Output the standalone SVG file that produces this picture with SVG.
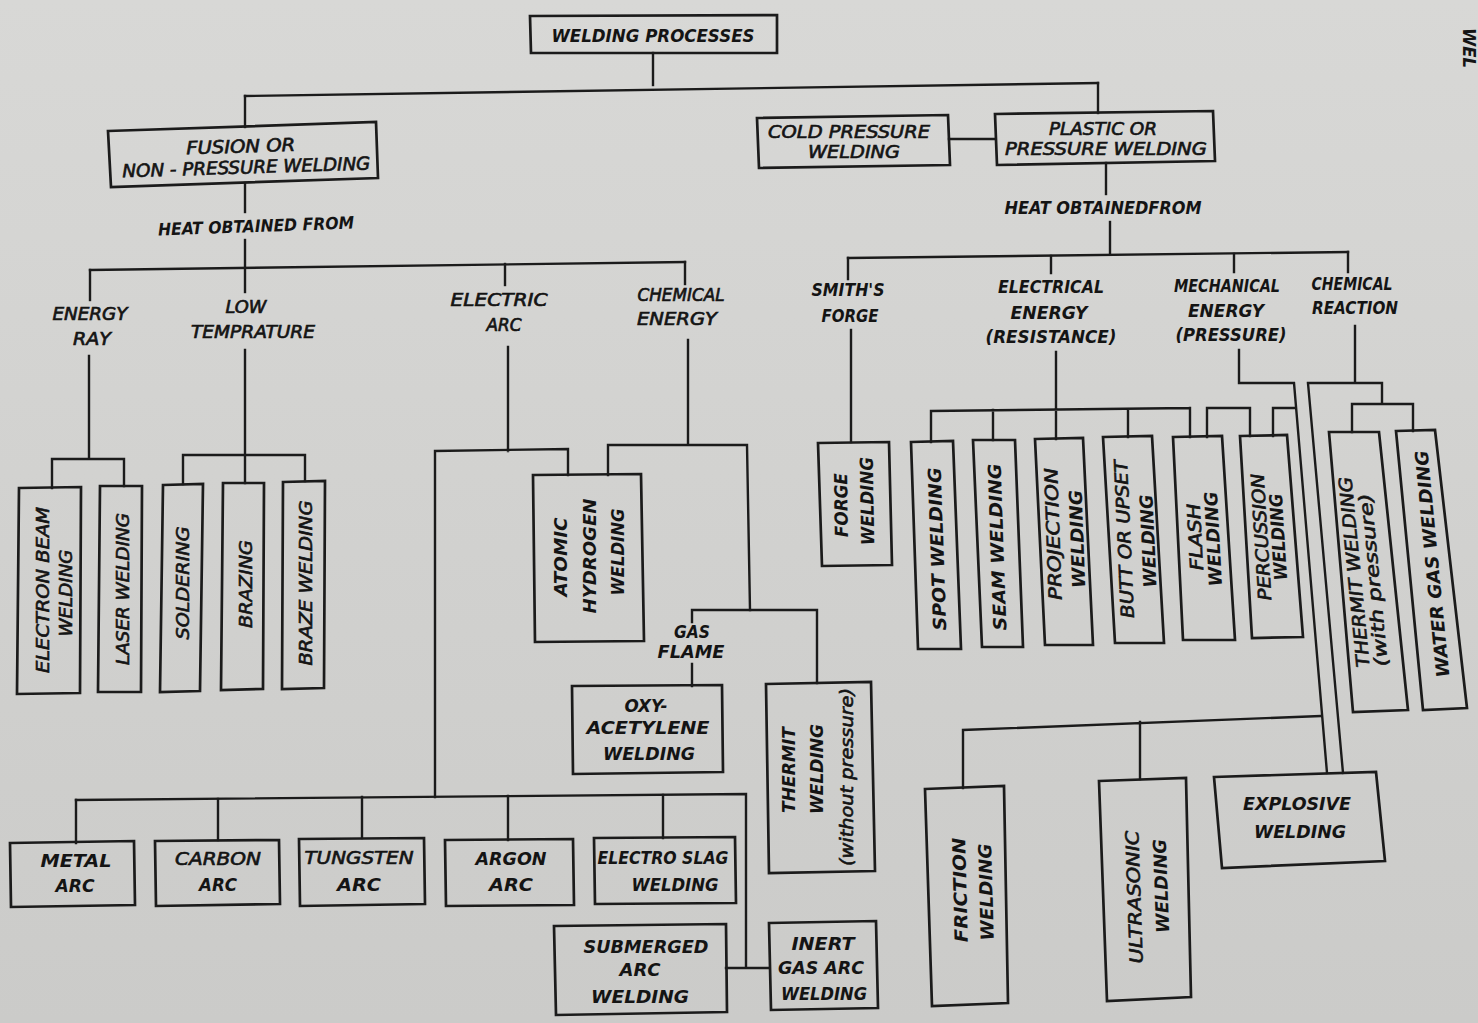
<svg xmlns="http://www.w3.org/2000/svg" width="1478" height="1023" viewBox="0 0 1478 1023">
<defs>
<linearGradient id="bg" x1="0" y1="0" x2="0" y2="1">
<stop offset="0" stop-color="#d8d8d6"/>
<stop offset="1" stop-color="#cbcbc9"/>
</linearGradient>
</defs>
<style>
.box{fill:none;stroke:#1b1b1b;stroke-width:2.7;stroke-linejoin:miter}
.ln{fill:none;stroke:#1b1b1b;stroke-width:2.4;stroke-linecap:square;stroke-linejoin:miter}
text{font-family:"DejaVu Sans Condensed","DejaVu Sans",sans-serif;font-style:italic;font-weight:bold;font-size:18px;fill:#141414;text-anchor:middle;dominant-baseline:central}
.lbl{font-size:17px}
.thin{font-weight:normal;stroke:#141414;stroke-width:0.6}
</style>
<rect x="0" y="0" width="1478" height="1023" fill="url(#bg)"/>

<g id="connectors" class="ln">
<path d="M653,53 V85"/>
<path d="M245,96 L1098,83"/>
<path d="M245,96 V127"/>
<path d="M1098,83 V113"/>
<path d="M949,139 H995"/>
<path d="M245,183 V212"/>
<path d="M245,240 V292"/>
<path d="M90,270 L685,262"/>
<path d="M90,270 V300"/>
<path d="M505,264 V285"/>
<path d="M685,262 V284"/>
<path d="M89,356 V459 M52,459 H124 M52,459 V488 M124,459 V486"/>
<path d="M245,350 V483 M183,455 H305 M183,455 V484 M305,455 V481"/>
<path d="M508,347 V451 M435,451 L568,449 V475 M435,451 V797"/>
<path d="M688,340 V445 M608,445 H747 M608,445 V475 M747,445 L750,610"/>
<path d="M692,610 H817 V683 M692,610 V622 M692,664 V686"/>
<path d="M76,800 L746,794 V968 M726,968 H769"/>
<path d="M76,800 V843 M218,799 V840 M362,797 V838 M508,796 V840 M663,795 V838"/>
<path d="M1106,163 V194"/>
<path d="M1110,222 V254"/>
<path d="M848,258 L1348,252"/>
<path d="M848,258 V279 M1051,256 V273 M1234,254 V272 M1348,252 V272"/>
<path d="M851,330 V442"/>
<path d="M1056,352 V439 M931,411 L1190,408 M931,411 V442 M993,410 V440 M1128,409 V437 M1190,408 V437"/>
<path d="M1207,408 H1250 M1207,408 V437 M1250,408 V436 M1273,408 H1294 M1273,408 V436"/>
<path d="M1239,350 V383 H1294 L1327,773"/>
<path d="M963,788 V730 L1321,716 M1140,722 V779"/>
<path d="M1355,326 V383 M1308,383 H1382 V404 M1352,404 H1413 M1352,404 V432 M1413,404 V431 M1308,383 L1343,773"/>
</g>

<g id="welding-processes">
<polygon class="box" points="530,16 777,15 777,53 531,53"/>
<text x="653" y="35" font-size="16" textLength="203" lengthAdjust="spacingAndGlyphs">WELDING PROCESSES</text>
</g>
<g id="fusion-welding">
<polygon class="box" points="108,131 376,122 378,178 111,187"/>
<g transform="rotate(-1.8 245 156)">
<text class="thin" x="241" y="146" font-size="17" textLength="109" lengthAdjust="spacingAndGlyphs">FUSION OR</text>
<text class="thin" x="246" y="167" font-size="17" textLength="248" lengthAdjust="spacingAndGlyphs">NON - PRESSURE WELDING</text>
</g>
</g>
<g id="cold-pressure-welding">
<polygon class="box" points="757,118 948,115 950,165 759,168"/>
<text class="thin" x="849" y="131" font-size="17" textLength="162" lengthAdjust="spacingAndGlyphs">COLD PRESSURE</text>
<text class="thin" x="854" y="151" font-size="17" textLength="92" lengthAdjust="spacingAndGlyphs">WELDING</text>
</g>
<g id="plastic-welding">
<polygon class="box" points="995,114 1213,111 1215,161 997,165"/>
<text class="thin" x="1103" y="128" font-size="17" textLength="108" lengthAdjust="spacingAndGlyphs">PLASTIC OR</text>
<text class="thin" x="1106" y="148" font-size="17" textLength="202" lengthAdjust="spacingAndGlyphs">PRESSURE WELDING</text>
</g>

<g id="heat-left">
<text class="lbl" x="256" y="226" transform="rotate(-2 256 226)" textLength="196" lengthAdjust="spacingAndGlyphs">HEAT OBTAINED FROM</text>
</g>
<g id="heat-right">
<text class="lbl" x="1103" y="208" textLength="197" lengthAdjust="spacingAndGlyphs">HEAT OBTAINEDFROM</text>
</g>

<g id="energy-ray">
<text class="lbl thin" x="90" y="314" textLength="75" lengthAdjust="spacingAndGlyphs">ENERGY</text>
<text class="lbl thin" x="92" y="339" textLength="38" lengthAdjust="spacingAndGlyphs">RAY</text>
</g>
<g id="low-temperature">
<text class="lbl thin" x="246" y="307" textLength="41" lengthAdjust="spacingAndGlyphs">LOW</text>
<text class="lbl thin" x="253" y="332" textLength="124" lengthAdjust="spacingAndGlyphs">TEMPRATURE</text>
</g>
<g id="electric-arc">
<text class="lbl thin" x="499" y="300" textLength="97" lengthAdjust="spacingAndGlyphs">ELECTRIC</text>
<text class="lbl thin" x="504" y="325" textLength="35" lengthAdjust="spacingAndGlyphs">ARC</text>
</g>
<g id="chemical-energy">
<text class="lbl thin" x="681" y="295" textLength="87" lengthAdjust="spacingAndGlyphs">CHEMICAL</text>
<text class="lbl thin" x="677" y="319" textLength="80" lengthAdjust="spacingAndGlyphs">ENERGY</text>
</g>
<g id="smiths-forge">
<text class="lbl" x="848" y="290" textLength="73" lengthAdjust="spacingAndGlyphs">SMITH'S</text>
<text class="lbl" x="850" y="316" textLength="57" lengthAdjust="spacingAndGlyphs">FORGE</text>
</g>
<g id="electrical-energy">
<text class="lbl" x="1051" y="287" textLength="106" lengthAdjust="spacingAndGlyphs">ELECTRICAL</text>
<text class="lbl" x="1049" y="313" textLength="77" lengthAdjust="spacingAndGlyphs">ENERGY</text>
<text class="lbl" x="1051" y="337" textLength="131" lengthAdjust="spacingAndGlyphs">(RESISTANCE)</text>
</g>
<g id="mechanical-energy">
<text class="lbl" x="1227" y="286" textLength="106" lengthAdjust="spacingAndGlyphs">MECHANICAL</text>
<text class="lbl" x="1226" y="311" textLength="76" lengthAdjust="spacingAndGlyphs">ENERGY</text>
<text class="lbl" x="1231" y="335" textLength="111" lengthAdjust="spacingAndGlyphs">(PRESSURE)</text>
</g>
<g id="chemical-reaction">
<text class="lbl" x="1352" y="284" textLength="81" lengthAdjust="spacingAndGlyphs">CHEMICAL</text>
<text class="lbl" x="1355" y="308" textLength="86" lengthAdjust="spacingAndGlyphs">REACTION</text>
</g>
<g id="gas-flame">
<text class="lbl" x="692" y="632" textLength="36" lengthAdjust="spacingAndGlyphs">GAS</text>
<text class="lbl" x="691" y="652" textLength="67" lengthAdjust="spacingAndGlyphs">FLAME</text>
</g>

<g id="electron-beam-welding">
<polygon class="box" points="19,488 81,487 80,693 17,694"/>
<text class="thin" transform="translate(42,590) rotate(-90)" textLength="166" lengthAdjust="spacingAndGlyphs">ELECTRON BEAM</text>
<text class="thin" transform="translate(65,593) rotate(-90)" textLength="87" lengthAdjust="spacingAndGlyphs">WELDING</text>
</g>
<g id="laser-welding">
<polygon class="box" points="100,486 142,486 141,692 98,692"/>
<text class="thin" transform="translate(122,589) rotate(-90)" textLength="152" lengthAdjust="spacingAndGlyphs">LASER WELDING</text>
</g>
<g id="soldering">
<polygon class="box" points="163,485 203,484 200,691 160,692"/>
<text class="thin" transform="translate(182,583) rotate(-90)" textLength="113" lengthAdjust="spacingAndGlyphs">SOLDERING</text>
</g>
<g id="brazing">
<polygon class="box" points="223,483 264,483 263,689 221,690"/>
<text class="thin" transform="translate(245,584) rotate(-90)" textLength="88" lengthAdjust="spacingAndGlyphs">BRAZING</text>
</g>
<g id="braze-welding">
<polygon class="box" points="283,482 325,481 324,688 282,689"/>
<text class="thin" transform="translate(305,583) rotate(-90)" textLength="165" lengthAdjust="spacingAndGlyphs">BRAZE WELDING</text>
</g>

<g id="atomic-hydrogen-welding">
<polygon class="box" points="533,475 641,474 644,641 535,642"/>
<text transform="translate(560,557) rotate(-90)" textLength="79" lengthAdjust="spacingAndGlyphs">ATOMIC</text>
<text transform="translate(589,556) rotate(-90)" textLength="115" lengthAdjust="spacingAndGlyphs">HYDROGEN</text>
<text transform="translate(617,552) rotate(-90)" textLength="87" lengthAdjust="spacingAndGlyphs">WELDING</text>
</g>
<g id="oxy-acetylene-welding">
<polygon class="box" points="572,686 722,685 723,772 573,774"/>
<text x="646" y="705" textLength="43" lengthAdjust="spacingAndGlyphs">OXY-</text>
<text x="648" y="727" textLength="123" lengthAdjust="spacingAndGlyphs">ACETYLENE</text>
<text x="649" y="753" textLength="92" lengthAdjust="spacingAndGlyphs">WELDING</text>
</g>
<g id="thermit-welding-without-pressure">
<polygon class="box" points="766,684 871,682 875,871 769,873"/>
<text transform="translate(788,770) rotate(-90)" textLength="86" lengthAdjust="spacingAndGlyphs">THERMIT</text>
<text transform="translate(816,769) rotate(-90)" textLength="90" lengthAdjust="spacingAndGlyphs">WELDING</text>
<text class="thin" transform="translate(846,777) rotate(-90)" textLength="178" lengthAdjust="spacingAndGlyphs">(without pressure)</text>
</g>

<g id="metal-arc">
<polygon class="box" points="10,843 134,841 135,905 11,907"/>
<text x="76" y="860" textLength="71" lengthAdjust="spacingAndGlyphs">METAL</text>
<text x="75" y="885" textLength="39" lengthAdjust="spacingAndGlyphs">ARC</text>
</g>
<g id="carbon-arc">
<polygon class="box" points="155,841 279,840 280,904 156,906"/>
<text class="thin" x="218" y="858" textLength="86" lengthAdjust="spacingAndGlyphs">CARBON</text>
<text x="218" y="884" textLength="38" lengthAdjust="spacingAndGlyphs">ARC</text>
</g>
<g id="tungsten-arc">
<polygon class="box" points="299,839 424,838 425,904 300,906"/>
<text class="thin" x="359" y="857" textLength="109" lengthAdjust="spacingAndGlyphs">TUNGSTEN</text>
<text x="359" y="884" textLength="44" lengthAdjust="spacingAndGlyphs">ARC</text>
</g>
<g id="argon-arc">
<polygon class="box" points="445,840 573,839 574,905 446,906"/>
<text x="511" y="858" textLength="71" lengthAdjust="spacingAndGlyphs">ARGON</text>
<text x="511" y="884" textLength="44" lengthAdjust="spacingAndGlyphs">ARC</text>
</g>
<g id="electroslag-welding">
<polygon class="box" points="594,838 735,837 736,903 595,904"/>
<text x="663" y="857" textLength="131" lengthAdjust="spacingAndGlyphs">ELECTRO SLAG</text>
<text x="675" y="884" textLength="87" lengthAdjust="spacingAndGlyphs">WELDING</text>
</g>
<g id="submerged-arc-welding">
<polygon class="box" points="554,926 726,924 727,1012 556,1015"/>
<text x="646" y="946" textLength="125" lengthAdjust="spacingAndGlyphs">SUBMERGED</text>
<text x="640" y="969" textLength="41" lengthAdjust="spacingAndGlyphs">ARC</text>
<text x="640" y="996" textLength="98" lengthAdjust="spacingAndGlyphs">WELDING</text>
</g>
<g id="inert-gas-arc-welding">
<polygon class="box" points="769,923 876,921 878,1008 771,1010"/>
<text x="823" y="943" textLength="63" lengthAdjust="spacingAndGlyphs">INERT</text>
<text x="821" y="967" textLength="86" lengthAdjust="spacingAndGlyphs">GAS ARC</text>
<text x="824" y="993" textLength="86" lengthAdjust="spacingAndGlyphs">WELDING</text>
</g>

<g id="forge-welding">
<polygon class="box" points="818,443 889,442 892,565 822,566"/>
<text transform="translate(841,505) rotate(-91)" textLength="64" lengthAdjust="spacingAndGlyphs">FORGE</text>
<text transform="translate(867,501) rotate(-91)" textLength="88" lengthAdjust="spacingAndGlyphs">WELDING</text>
</g>
<g id="spot-welding">
<polygon class="box" points="911,442 953,441 961,649 918,649"/>
<text transform="translate(937,549) rotate(-92)" textLength="163" lengthAdjust="spacingAndGlyphs">SPOT WELDING</text>
</g>
<g id="seam-welding">
<polygon class="box" points="973,440 1015,440 1023,647 982,647"/>
<text transform="translate(997,547) rotate(-92)" textLength="167" lengthAdjust="spacingAndGlyphs">SEAM WELDING</text>
</g>
<g id="projection-welding">
<polygon class="box" points="1035,439 1083,438 1093,645 1045,645"/>
<text class="thin" transform="translate(1053,534) rotate(-92)" textLength="132" lengthAdjust="spacingAndGlyphs">PROJECTION</text>
<text transform="translate(1077,539) rotate(-92)" textLength="98" lengthAdjust="spacingAndGlyphs">WELDING</text>
</g>
<g id="butt-welding">
<polygon class="box" points="1103,437 1152,436 1164,643 1115,643"/>
<text class="thin" transform="translate(1124,539) rotate(-92.5)" textLength="158" lengthAdjust="spacingAndGlyphs">BUTT OR UPSET</text>
<text transform="translate(1148,541) rotate(-92.5)" textLength="93" lengthAdjust="spacingAndGlyphs">WELDING</text>
</g>
<g id="flash-welding">
<polygon class="box" points="1173,437 1222,436 1235,640 1183,640"/>
<text class="thin" transform="translate(1195,537) rotate(-93)" textLength="67" lengthAdjust="spacingAndGlyphs">FLASH</text>
<text transform="translate(1213,539) rotate(-93)" textLength="95" lengthAdjust="spacingAndGlyphs">WELDING</text>
</g>
<g id="percussion-welding">
<polygon class="box" points="1240,436 1287,435 1303,637 1252,638"/>
<text class="thin" transform="translate(1261,537) rotate(-93.5)" textLength="127" lengthAdjust="spacingAndGlyphs">PERCUSSION</text>
<text transform="translate(1278,537) rotate(-93.5)" textLength="87" lengthAdjust="spacingAndGlyphs">WELDING</text>
</g>
<g id="thermit-welding-with-pressure">
<polygon class="box" points="1329,432 1379,432 1408,710 1353,712"/>
<text class="thin" transform="translate(1354,572) rotate(-95.5)" textLength="191" lengthAdjust="spacingAndGlyphs">THERMIT WELDING</text>
<text class="thin" transform="translate(1373,580) rotate(-95.5)" textLength="174" lengthAdjust="spacingAndGlyphs">(with pressure)</text>
</g>
<g id="water-gas-welding">
<polygon class="box" points="1396,431 1435,430 1467,708 1423,710"/>
<text transform="translate(1432,564) rotate(-95.5)" textLength="228" lengthAdjust="spacingAndGlyphs">WATER GAS WELDING</text>
</g>

<g id="friction-welding">
<polygon class="box" points="925,789 1004,786 1008,1003 932,1006"/>
<text transform="translate(960,890) rotate(-91.5)" textLength="105" lengthAdjust="spacingAndGlyphs">FRICTION</text>
<text transform="translate(986,892) rotate(-91.5)" textLength="97" lengthAdjust="spacingAndGlyphs">WELDING</text>
</g>
<g id="ultrasonic-welding">
<polygon class="box" points="1099,781 1186,778 1191,997 1107,1001"/>
<text class="thin" transform="translate(1134,897) rotate(-92)" textLength="133" lengthAdjust="spacingAndGlyphs">ULTRASONIC</text>
<text transform="translate(1161,886) rotate(-92)" textLength="94" lengthAdjust="spacingAndGlyphs">WELDING</text>
</g>
<g id="explosive-welding">
<polygon class="box" points="1214,777 1376,772 1385,861 1222,868"/>
<text x="1297" y="803" font-size="19" textLength="108" lengthAdjust="spacingAndGlyphs">EXPLOSIVE</text>
<text x="1300" y="831" font-size="19" textLength="92" lengthAdjust="spacingAndGlyphs">WELDING</text>
</g>

<text transform="translate(1469,48) rotate(90)" font-size="12" textLength="40" lengthAdjust="spacingAndGlyphs">WEL</text>
</svg>
